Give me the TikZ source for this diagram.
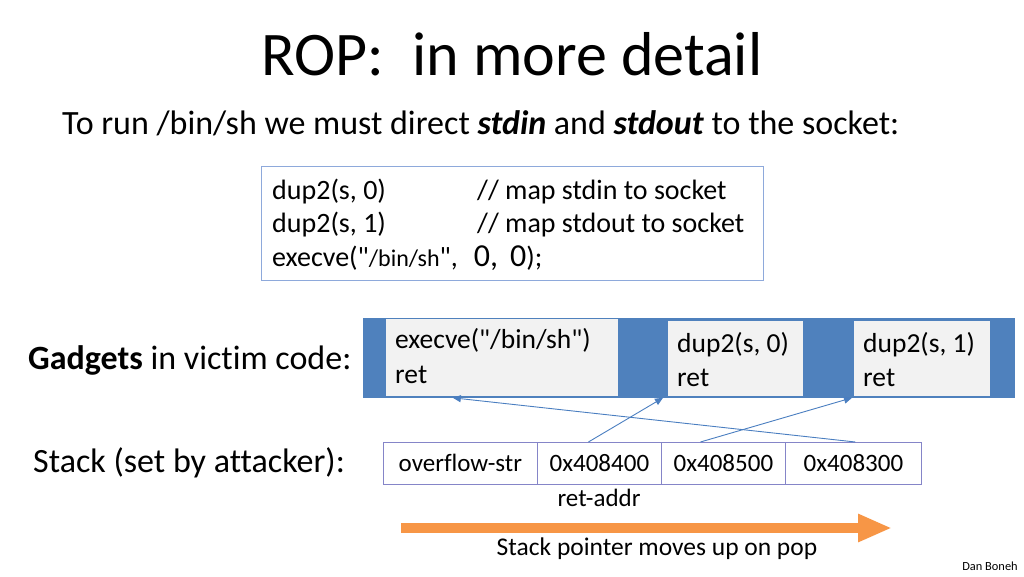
\documentclass[tikz,border=0pt]{standalone}
\usepackage{fontspec}
\setmainfont{Carlito}[Ligatures={TeXOff,NoCommon}]
\usetikzlibrary{arrows.meta,calc}
\definecolor{barblue}{HTML}{4F81BD}
\definecolor{boxgray}{HTML}{F2F2F2}
\definecolor{codeborder}{HTML}{8EA9DB}
\definecolor{cellborder}{HTML}{8585C8}
\definecolor{arrowblue}{HTML}{4A7EC0}
\definecolor{orangearr}{HTML}{F79646}
\tikzset{
  txt/.style={inner sep=0pt, anchor=base west},
  gadget/.style={draw=barblue, line width=0.8pt, fill=boxgray, anchor=north west, inner sep=0pt},
  cell/.style={draw=cellborder, line width=0.8pt, minimum height=42pt, inner sep=0pt, anchor=north west, font=\fontsize{25}{30}\selectfont},
  link/.style={draw=arrowblue, line width=0.9pt, -{Triangle[length=8pt,width=7pt]}},
}
\begin{document}
\begin{tikzpicture}[x=1pt,y=-1pt]
\useasboundingbox (0,0) rectangle (1024,576);
% title
\node[inner sep=0pt] (title) at (512,54) {\fontsize{62}{70}\selectfont ROP:\ \ in more detail};
\node[txt] (sub) at (62,134) {\fontsize{34}{40}\selectfont To run /bin/sh we must direct \textbf{\textit{stdin}} and \textbf{\textit{stdout}} to the socket:};
% code box
\node[draw=codeborder, line width=1pt, anchor=north west, minimum width=502pt, minimum height=114pt, inner sep=0pt] (code) at (261,166) {};
\node[txt] (l1) at (272,199) {\fontsize{28}{32}\selectfont dup2(s, 0)};
\node[txt] (c1) at (477,199) {\fontsize{28}{32}\selectfont // map stdin to socket};
\node[txt] (l2) at (272,232) {\fontsize{28}{32}\selectfont dup2(s, 1)};
\node[txt] (c2) at (477,232) {\fontsize{28}{32}\selectfont // map stdout to socket};
\node[txt] (l3) at (272,266) {\fontsize{28}{32}\selectfont execve("{\fontsize{24}{26}\selectfont /bin/sh}",\hspace{16pt}{\fontsize{32}{34}\selectfont 0,\hspace{12pt}0});};
% gadgets
\node[txt] (glabel) at (28,369) {\fontsize{34}{40}\selectfont \textbf{Gadgets} in victim code:};
\fill[barblue] (363,318) rectangle (1015,398);
\node[gadget, minimum width=233pt, minimum height=78pt] (g1) at (385,318) {};
\node[gadget, minimum width=136pt, minimum height=76pt] (g2) at (667,320) {};
\node[gadget, minimum width=137pt, minimum height=76pt] (g3) at (853,320) {};
\node[txt] (g1a) at (395,348) {\fontsize{27.5}{32}\selectfont execve("/bin/sh")};
\node[txt] (g1b) at (395,383) {\fontsize{27.5}{32}\selectfont ret};
\node[txt] (g2a) at (677,352) {\fontsize{27.5}{32}\selectfont dup2(s, 0)};
\node[txt] (g2b) at (677,386) {\fontsize{27.5}{32}\selectfont ret};
\node[txt] (g3a) at (863,352) {\fontsize{27.5}{32}\selectfont dup2(s, 1)};
\node[txt] (g3b) at (863,386) {\fontsize{27.5}{32}\selectfont ret};
% stack
\node[txt] (slabel) at (33,472) {\fontsize{34}{40}\selectfont Stack (set by attacker):};
\node[cell, minimum width=154pt] (s1) at (383,442) {overflow-str};
\node[cell, minimum width=124pt] (s2) at (537,442) {0x408400};
\node[cell, minimum width=124pt] (s3) at (661,442) {0x408500};
\node[cell, minimum width=136pt] (s4) at (785,442) {0x408300};
\node[inner sep=0pt] (retaddr) at (599,498) {\fontsize{25}{30}\selectfont ret-addr};
% links
\draw[link] ($(s2.north)+(-11,0)$) -- ($(g2.south west)+(-4,1)$);
\draw[link] ($(s3.north)+(-23,0)$) -- ($(g3.south west)+(-1,1)$);
\draw[link] ($(s4.north)+(2,0)$) -- ($(g1.south west)!0.29!(g1.south east)+(0,1)$);
% orange arrow
\coordinate (oa) at (401,528);
\coordinate (ob) at (892,528);
\draw[orangearr, line width=10pt, -{Triangle[length=34pt 0 0,width=26pt 0 0]}] (oa) -- (ob);
\node[inner sep=0pt] (sp) at (657,549) {\fontsize{25.5}{30}\selectfont Stack pointer moves up on pop};
\node[inner sep=0pt] (author) at (990,566) {\fontsize{12.4}{14}\selectfont Dan Boneh};
\end{tikzpicture}
\end{document}
